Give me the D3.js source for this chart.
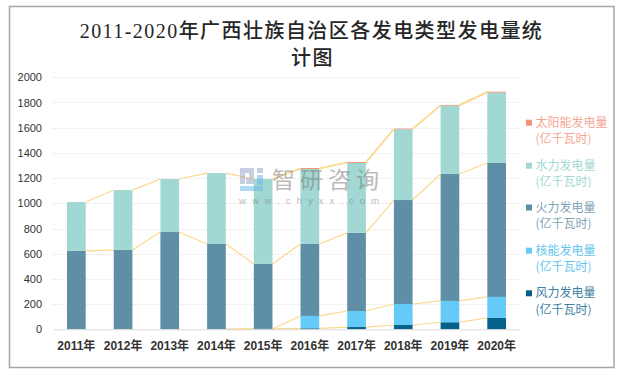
<!DOCTYPE html>
<html>
<head>
<meta charset="utf-8">
<script src="https://cdn.jsdelivr.net/npm/d3@7"></script>
<style>
  html, body { margin: 0; padding: 0; background: #fff; overflow: hidden; }
  svg { display: block; }
</style>
</head>
<body>
<svg id="chart" width="619" height="373"></svg>
<script>
// Chart data
const years = ["2011年", "2012年", "2013年", "2014年", "2015年", "2016年", "2017年", "2018年", "2019年", "2020年"];
const wind    = [0, 0, 0, 0, 3, 8, 18, 34, 56, 90];
const nuclear = [0, 0, 0, 0, 0, 98, 127, 167, 169, 167];
const thermal = [622, 630, 772, 677, 516, 571, 620, 825, 1008, 1063];
const hydro   = [388, 475, 421, 563, 674, 595, 555, 561, 542, 558];
const solar   = [0, 0, 0, 0, 0, 8, 8, 6, 6, 8];
const yTicks  = [0, 200, 400, 600, 800, 1000, 1200, 1400, 1600, 1800, 2000];
const seriesNames = ["风力发电量", "核能发电量", "火力发电量", "水力发电量", "太阳能发电量"];
const seriesColors = ["#03618a", "#64caf8", "#5e8fa7", "#a2d8d3", "#ef9478"];
const legendColors = ["#3f7f9f", "#64c4ee", "#7fa3b6", "#a2d8d3", "#f5a692"];

const svg = d3.select("#chart");

// Outer border
svg.append("rect")
  .attr("x", 9.5).attr("y", 6.5)
  .attr("width", 604.5).attr("height", 361)
  .attr("fill", "#fff")
  .attr("stroke", "#a6a6a6")
  .attr("stroke-width", 1.5);

// Title
const title = svg.append("text")
  .attr("text-anchor", "middle")
  .attr("font-family", "'Liberation Serif','Noto Sans CJK SC'")
  .attr("font-size", "20px")
  .attr("font-weight", 500)
  .attr("letter-spacing", "1.45px")
  .attr("fill", "#262626");
title.append("tspan").attr("x", 311.5).attr("y", 38).text("2011-2020年广西壮族自治区各发电类型发电量统");
title.append("tspan").attr("x", 312.5).attr("y", 65).text("计图");

// Scales
const margin = { left: 53, right: 520, top: 77.3, bottom: 329.3 };
const xScale = d3.scaleBand()
  .domain(years)
  .range([margin.left, margin.right])
  .paddingInner(0.6)
  .paddingOuter(0.3);
const yScale = d3.scaleLinear()
  .domain([0, 2000])
  .range([margin.bottom, margin.top]);

// Stack
const table = years.map((year, i) => ({
  year, wind: wind[i], nuclear: nuclear[i], thermal: thermal[i], hydro: hydro[i], solar: solar[i]
}));
const stacked = d3.stack().keys(["wind", "nuclear", "thermal", "hydro", "solar"])(table);

// Gridlines
svg.append("g")
  .selectAll("line")
  .data(yTicks.filter(d => d > 0))
  .enter()
  .append("line")
  .attr("x1", margin.left).attr("x2", margin.right)
  .attr("y1", d => Math.round(yScale(d)) + 0.5)
  .attr("y2", d => Math.round(yScale(d)) + 0.5)
  .attr("stroke", "#eeeeee")
  .attr("stroke-dasharray", "3 1");

// Series lines between neighbouring bars
const seriesLine = svg.append("g");
stacked.forEach(layer => {
  // wind and nuclear only start after 2014, hydro and thermal have all years
  const firstYear = layer.key === "wind" || layer.key === "nuclear" ? 3 : layer.key === "solar" ? 4 : 0;
  for (let i = firstYear; i < years.length - 1; i++) {
    seriesLine.append("line")
      .attr("x1", xScale(years[i]) + xScale.bandwidth())
      .attr("x2", xScale(years[i + 1]))
      .attr("y1", yScale(layer[i][1]))
      .attr("y2", yScale(layer[i + 1][1]))
      .attr("stroke", "#fbd98d")
      .attr("stroke-width", 1.2);
  }
});

// Bars
stacked.forEach((layer, k) => {
  svg.append("g")
    .attr("fill", seriesColors[k])
    .selectAll("rect")
    .data(layer)
    .enter()
    .append("rect")
    .attr("x", d => xScale(d.data.year))
    .attr("y", d => yScale(d[1]))
    .attr("width", xScale.bandwidth())
    .attr("height", d => yScale(d[0]) - yScale(d[1]));
});

// Y axis labels
const yAxis = svg.append("g")
  .attr("transform", `translate(${margin.left},0)`)
  .call(d3.axisLeft(yScale).tickValues(yTicks).tickFormat(d3.format("d")).tickSize(0).tickPadding(11));
yAxis.select(".domain").remove();
yAxis.selectAll("text")
  .attr("font-family", "'Liberation Sans',sans-serif")
  .attr("font-size", "11px")
  .attr("fill", "#333");

// X axis
const xAxis = svg.append("g")
  .attr("transform", `translate(0,${margin.bottom})`)
  .call(d3.axisBottom(xScale).tickSize(0).tickPadding(12));
xAxis.select(".domain").attr("stroke", "#d9d9d9").attr("stroke-width", 1);
xAxis.selectAll("text")
  .attr("font-family", "'Liberation Sans','Noto Sans CJK SC',sans-serif")
  .attr("font-size", "12px")
  .attr("font-weight", "bold")
  .attr("fill", "#333");

// Legend, top entry is the top of the stack
const legendY = [122.7, 165.7, 207.5, 250.7, 293.3];
const legendNames = seriesNames.slice().reverse();
const legendBox = seriesColors.slice().reverse();
const legendText = legendColors.slice().reverse();
const legend = svg.append("g")
  .attr("font-family", "'Noto Sans CJK SC',sans-serif")
  .attr("font-size", "12px");
legendNames.forEach((name, i) => {
  legend.append("rect")
    .attr("x", 526).attr("y", legendY[i] - 3)
    .attr("width", 6).attr("height", 6)
    .attr("fill", legendBox[i]);
  legend.append("text")
    .attr("x", 535.5).attr("y", legendY[i] + 4)
    .attr("fill", legendText[i])
    .text(name);
  legend.append("text")
    .attr("x", 535.5).attr("y", legendY[i] + 20.5)
    .attr("fill", legendText[i])
    .text("(亿千瓦时)");
});

// Watermark
const mark = svg.append("g").attr("opacity", 0.5);
[[240, 168, 14, 5, "#8fa0c4"], [240, 168, 5, 16, "#8fa0c4"], [249, 168, 5, 13, "#8fa0c4"],
 [257, 168, 6, 5, "#8fa0c4"], [257, 175, 6, 10, "#62b5e5"], [240, 186, 23, 5, "#62b5e5"],
 [246, 178, 8, 6, "#8fa0c4"]].forEach(r => {
  mark.append("rect")
    .attr("x", r[0]).attr("y", r[1])
    .attr("width", r[2]).attr("height", r[3])
    .attr("fill", r[4]);
});
mark.append("text")
  .attr("x", 272).attr("y", 188)
  .attr("font-family", "'Noto Sans CJK SC',sans-serif")
  .attr("font-size", "23px")
  .attr("letter-spacing", "5px")
  .attr("fill", "#777")
  .text("智研咨询");
mark.append("text")
  .attr("x", 239).attr("y", 204)
  .attr("font-family", "'Liberation Sans',sans-serif")
  .attr("font-size", "9.5px")
  .attr("textLength", 140)
  .attr("lengthAdjust", "spacing")
  .attr("fill", "#777")
  .text("www.chyxx.com");
</script>
</body>
</html>
